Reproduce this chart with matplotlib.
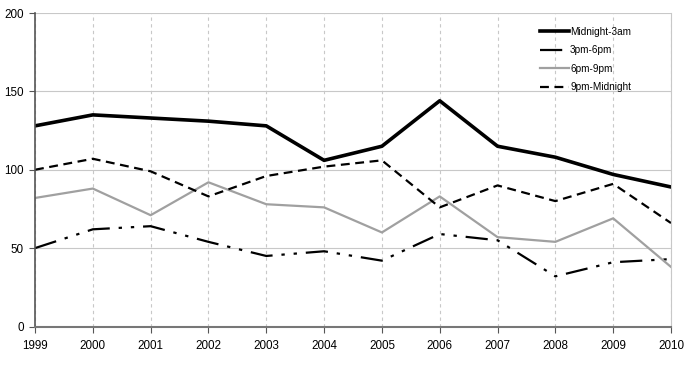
import matplotlib
matplotlib.use("Agg")
import matplotlib.pyplot as plt

plt.rcParams['font.family'] = ['Liberation Sans', 'DejaVu Sans']

years = [1999, 2000, 2001, 2002, 2003, 2004, 2005, 2006, 2007, 2008, 2009, 2010]
midnight_3am = [128, 135, 133, 131, 128, 106, 115, 144, 115, 108, 97, 89]
pm3_6 = [50, 62, 64, 54, 45, 48, 42, 59, 55, 32, 41, 43]
pm6_9 = [82, 88, 71, 92, 78, 76, 60, 83, 57, 54, 69, 38]
pm9_midnight = [100, 107, 99, 83, 96, 102, 106, 76, 90, 80, 91, 66]

fig = plt.figure(figsize=(6.9, 3.67), dpi=100)
ax = fig.add_axes([35/690, 1-326.5/367, (671-35)/690, (326.5-13)/367])

ax.plot(years, midnight_3am, color='black', lw=2.6, label='Midnight-3am')
ax.plot(years, pm3_6, color='black', lw=1.6, dashes=(10, 4, 1.5, 4, 1.5, 4), label='3pm-6pm')
ax.plot(years, pm6_9, color='#a0a0a0', lw=1.6, label='6pm-9pm')
ax.plot(years, pm9_midnight, color='black', lw=1.6, dashes=(4, 2.5), label='9pm-Midnight')

ax.set_xlim(1999, 2010)
ax.set_ylim(0, 200)
ax.set_xticks(years)
ax.set_xticklabels([str(y) for y in years])
ax.set_yticks([0, 50, 100, 150, 200])

ax.yaxis.grid(True, color='#c8c8c8', lw=0.8)
ax.xaxis.grid(True, color='#c8c8c8', lw=0.8, ls=(0, (3, 3)))
ax.set_axisbelow(True)

ax.spines['top'].set_visible(False)
ax.spines['right'].set_color('#c8c8c8')
ax.spines['right'].set_linewidth(0.8)
ax.spines['left'].set_color('#555555')
ax.spines['bottom'].set_color('#777777')
ax.spines['left'].set_linewidth(1.2)
ax.spines['bottom'].set_linewidth(1.5)

ax.tick_params(axis='both', direction='out', length=4, colors='#555555', labelcolor='black', labelsize=8.4)
ax.tick_params(axis='x', pad=6)
ax.tick_params(axis='y', pad=4)

leg = ax.legend(loc='upper left', bbox_to_anchor=(0.78, 0.985), frameon=False, fontsize=7.2,
                handlelength=2.9, handletextpad=0.1, labelspacing=0.85)

fig.savefig('out.png', dpi=100)
